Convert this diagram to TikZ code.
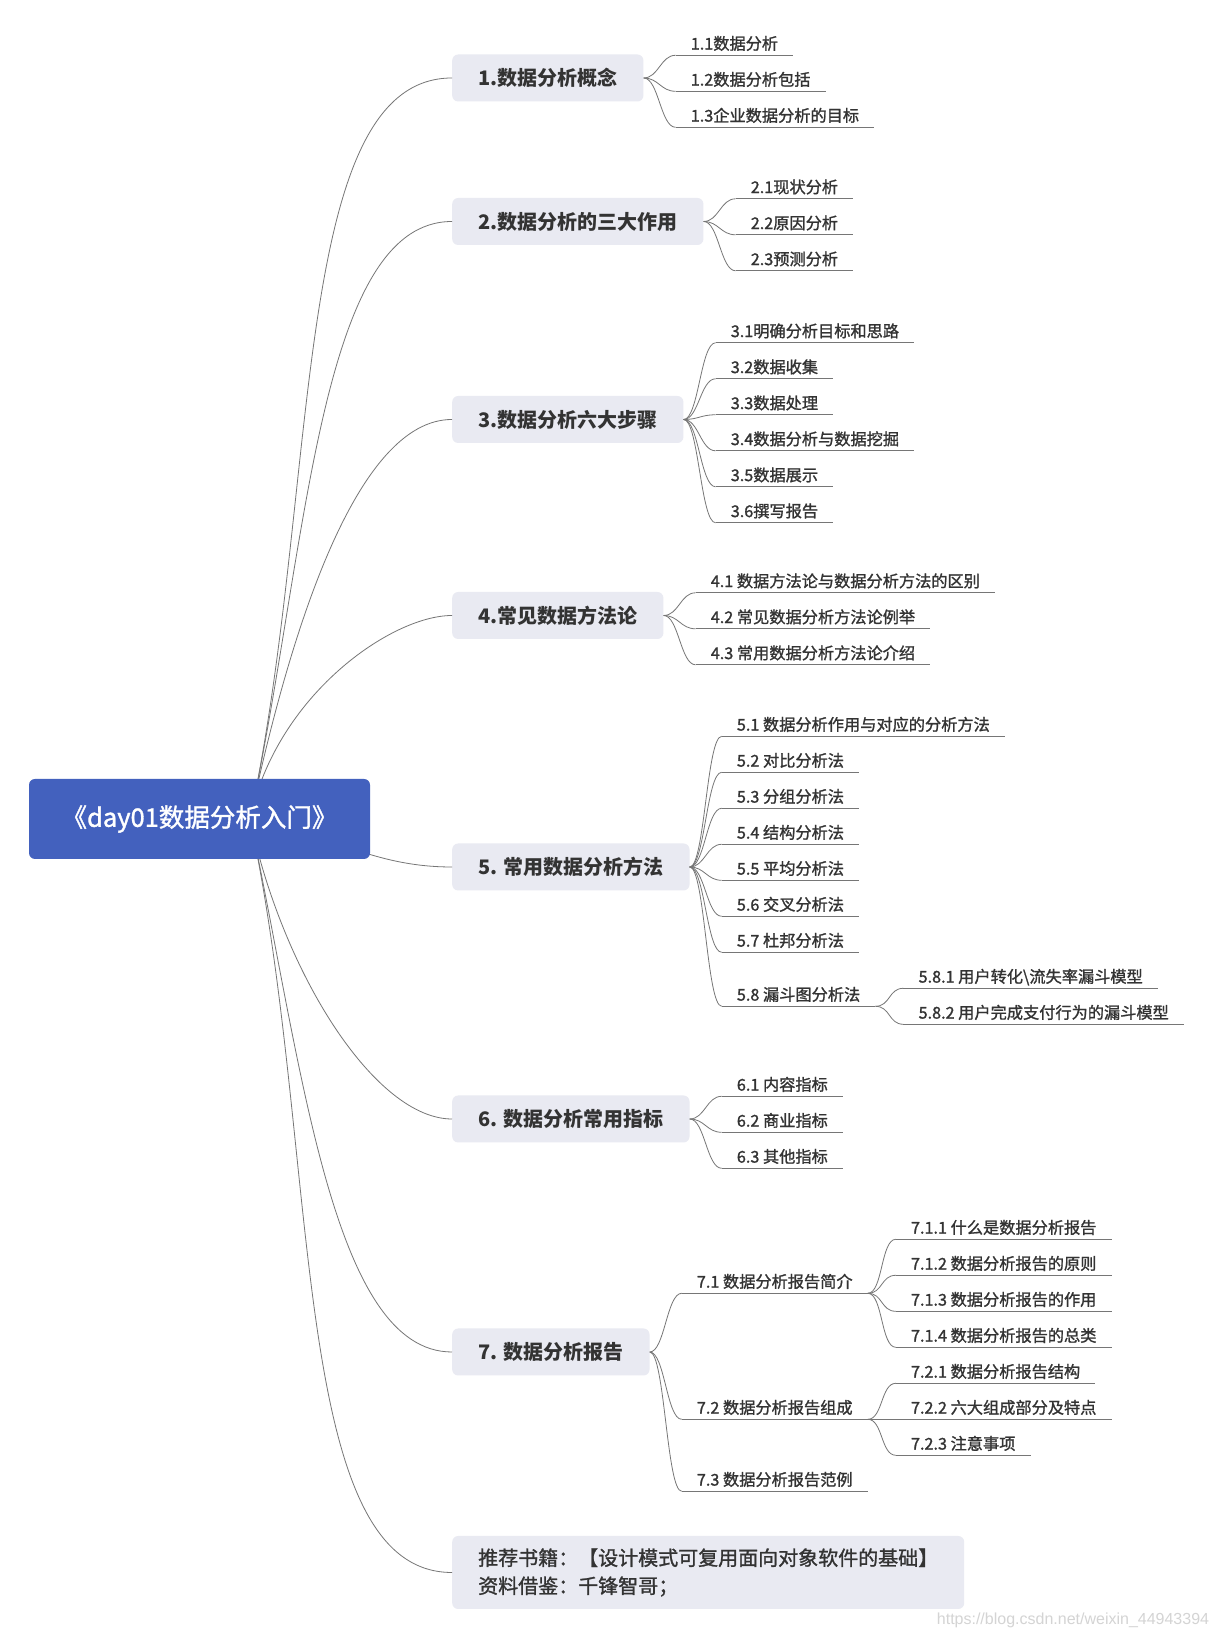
\documentclass[tikz,border=0pt]{standalone}
\usepackage{fontspec}
\setmainfont{Noto Sans CJK SC}
\newfontfamily\midfont{Noto Sans CJK SC}[FakeBold=1.3]
\newfontfamily\markfont{Liberation Sans}
\usetikzlibrary{positioning}

\definecolor{rootblue}{RGB}{67,97,190}
\definecolor{topicgray}{RGB}{233,234,242}
\definecolor{inkgray}{RGB}{51,51,51}
\definecolor{wiregray}{RGB}{118,118,118}
\definecolor{markgray}{RGB}{212,212,212}

\tikzset{
  root/.style={fill=rootblue, rounded corners=6pt, text=white, minimum width=341pt, minimum height=80pt, font=\midfont\fontsize{25.5}{30}\selectfont},
  topic/.style={fill=topicgray, rounded corners=6pt, anchor=west, inner xsep=26pt, minimum height=47pt, text=inkgray, font=\fontsize{20}{24}\selectfont\bfseries},
  note/.style={topic, align=left, minimum height=73pt, font=\midfont\fontsize{20}{28}\selectfont},
  leaf/.style={anchor=south west, inner xsep=15pt, inner ysep=0pt, text depth=5.5pt, text=inkgray, font=\midfont\fontsize{16.2}{19}\selectfont,
    append after command={(\tikzlastnode.south west) edge[rule] (\tikzlastnode.south east)}},
  rule/.style={draw=wiregray, line width=0.9pt},
  stem/.style={draw=wiregray, line width=0.8pt},
  twig/.style={draw=wiregray, line width=0.8pt, to path={.. controls +(15,0) and +(-15,0) .. (\tikztotarget)}},
  rise/.style={out=78, in=180, out looseness=1.13, in looseness=0.54},
  sink/.style={out=-78, in=180, out looseness=1.13, in looseness=0.54},
  wmark/.style={text=markgray, font=\markfont\fontsize{16}{16}\selectfont}
}

\begin{document}
\begin{tikzpicture}[x=1pt, y=1pt]
\fill[white] (0,0) rectangle (1217,1638);
\useasboundingbox (0,0) rectangle (1217,1638);

% main topics
\node[topic] (t1) at (452,1560) {1.数据分析概念};
\node[topic] (t2) at (452,1416.5) {2.数据分析的三大作用};
\node[topic] (t3) at (452,1218.5) {3.数据分析六大步骤};
\node[topic] (t4) at (452,1022.5) {4.常见数据方法论};
\node[topic] (t5) at (452,771) {5. 常用数据分析方法};
\node[topic] (t6) at (452,519) {6. 数据分析常用指标};
\node[topic] (t7) at (452,286) {7. 数据分析报告};
\node[note] (t8) at (452,65.5) {推荐书籍：【设计模式可复用面向对象软件的基础】\\资料借鉴：千锋智哥；};

% 1
\node[leaf] (c11) at ([shift={(32,22.7)}]t1.east) {1.1数据分析};
\node[leaf] (c12) at ([shift={(32,-13.3)}]t1.east) {1.2数据分析包括};
\node[leaf] (c13) at ([shift={(32,-49.3)}]t1.east) {1.3企业数据分析的目标};
\draw[twig] (t1.east) to (c11.south west);
\draw[twig] (t1.east) to (c12.south west);
\draw[twig] (t1.east) to (c13.south west);

% 2
\node[leaf] (c21) at ([shift={(32,22.7)}]t2.east) {2.1现状分析};
\node[leaf] (c22) at ([shift={(32,-13.3)}]t2.east) {2.2原因分析};
\node[leaf] (c23) at ([shift={(32,-49.3)}]t2.east) {2.3预测分析};
\draw[twig] (t2.east) to (c21.south west);
\draw[twig] (t2.east) to (c22.south west);
\draw[twig] (t2.east) to (c23.south west);

% 3
\node[leaf] (c31) at ([shift={(32,76.7)}]t3.east) {3.1明确分析目标和思路};
\node[leaf] (c32) at ([shift={(32,40.7)}]t3.east) {3.2数据收集};
\node[leaf] (c33) at ([shift={(32,4.7)}]t3.east) {3.3数据处理};
\node[leaf] (c34) at ([shift={(32,-31.3)}]t3.east) {3.4数据分析与数据挖掘};
\node[leaf] (c35) at ([shift={(32,-67.3)}]t3.east) {3.5数据展示};
\node[leaf] (c36) at ([shift={(32,-103.3)}]t3.east) {3.6撰写报告};
\draw[twig] (t3.east) to (c31.south west);
\draw[twig] (t3.east) to (c32.south west);
\draw[twig] (t3.east) to (c33.south west);
\draw[twig] (t3.east) to (c34.south west);
\draw[twig] (t3.east) to (c35.south west);
\draw[twig] (t3.east) to (c36.south west);

% 4
\node[leaf] (c41) at ([shift={(32,22.7)}]t4.east) {4.1 数据方法论与数据分析方法的区别};
\node[leaf] (c42) at ([shift={(32,-13.3)}]t4.east) {4.2 常见数据分析方法论例举};
\node[leaf] (c43) at ([shift={(32,-49.3)}]t4.east) {4.3 常用数据分析方法论介绍};
\draw[twig] (t4.east) to (c41.south west);
\draw[twig] (t4.east) to (c42.south west);
\draw[twig] (t4.east) to (c43.south west);

% 5
\node[leaf] (c51) at ([shift={(32,130.7)}]t5.east) {5.1 数据分析作用与对应的分析方法};
\node[leaf] (c52) at ([shift={(32,94.7)}]t5.east) {5.2 对比分析法};
\node[leaf] (c53) at ([shift={(32,58.7)}]t5.east) {5.3 分组分析法};
\node[leaf] (c54) at ([shift={(32,22.7)}]t5.east) {5.4 结构分析法};
\node[leaf] (c55) at ([shift={(32,-13.3)}]t5.east) {5.5 平均分析法};
\node[leaf] (c56) at ([shift={(32,-49.3)}]t5.east) {5.6 交叉分析法};
\node[leaf] (c57) at ([shift={(32,-85.3)}]t5.east) {5.7 杜邦分析法};
\node[leaf] (c58) at ([shift={(32,-139.3)}]t5.east) {5.8 漏斗图分析法};
\node[leaf] (c581) at ([shift={(28,18)}]c58.south east) {5.8.1 用户转化\textbackslash 流失率漏斗模型};
\node[leaf] (c582) at ([shift={(28,-18)}]c58.south east) {5.8.2 用户完成支付行为的漏斗模型};
\draw[twig] (t5.east) to (c51.south west);
\draw[twig] (t5.east) to (c52.south west);
\draw[twig] (t5.east) to (c53.south west);
\draw[twig] (t5.east) to (c54.south west);
\draw[twig] (t5.east) to (c55.south west);
\draw[twig] (t5.east) to (c56.south west);
\draw[twig] (t5.east) to (c57.south west);
\draw[twig] (t5.east) to (c58.south west);
\draw[twig] (c58.south east) to (c581.south west);
\draw[twig] (c58.south east) to (c582.south west);

% 6
\node[leaf] (c61) at ([shift={(32,22.7)}]t6.east) {6.1 内容指标};
\node[leaf] (c62) at ([shift={(32,-13.3)}]t6.east) {6.2 商业指标};
\node[leaf] (c63) at ([shift={(32,-49.3)}]t6.east) {6.3 其他指标};
\draw[twig] (t6.east) to (c61.south west);
\draw[twig] (t6.east) to (c62.south west);
\draw[twig] (t6.east) to (c63.south west);

% 7
\node[leaf] (c71) at ([shift={(32,58.7)}]t7.east) {7.1 数据分析报告简介};
\node[leaf] (c72) at ([shift={(32,-67.3)}]t7.east) {7.2 数据分析报告组成};
\node[leaf] (c73) at ([shift={(32,-139.3)}]t7.east) {7.3 数据分析报告范例};
\node[leaf] (c711) at ([shift={(28,54)}]c71.south east) {7.1.1 什么是数据分析报告};
\node[leaf] (c712) at ([shift={(28,18)}]c71.south east) {7.1.2 数据分析报告的原则};
\node[leaf] (c713) at ([shift={(28,-18)}]c71.south east) {7.1.3 数据分析报告的作用};
\node[leaf] (c714) at ([shift={(28,-54)}]c71.south east) {7.1.4 数据分析报告的总类};
\node[leaf] (c721) at ([shift={(28,36)}]c72.south east) {7.2.1 数据分析报告结构};
\node[leaf] (c722) at ([shift={(28,0)}]c72.south east) {7.2.2 六大组成部分及特点};
\node[leaf] (c723) at ([shift={(28,-36)}]c72.south east) {7.2.3 注意事项};
\draw[twig] (t7.east) to (c71.south west);
\draw[twig] (t7.east) to (c72.south west);
\draw[twig] (t7.east) to (c73.south west);
\draw[twig] (c71.south east) to (c711.south west);
\draw[twig] (c71.south east) to (c712.south west);
\draw[twig] (c71.south east) to (c713.south west);
\draw[twig] (c71.south east) to (c714.south west);
\draw[twig] (c72.south east) to (c721.south west);
\draw[twig] (c72.south east) to (c722.south west);
\draw[twig] (c72.south east) to (c723.south west);

% root and its curves
\coordinate (hub) at (250,819);
\draw[stem] (hub) to[rise] (t1.west);
\draw[stem] (hub) to[rise] (t2.west);
\draw[stem] (hub) to[rise] (t3.west);
\draw[stem] (hub) to[rise] (t4.west);
\draw[stem] (hub) to[out=-10,in=180] (t5.west);
\draw[stem] (hub) to[sink] (t6.west);
\draw[stem] (hub) to[sink] (t7.west);
\draw[stem] (hub) to[sink] (t8.west);
\node[root] (root) at (199.5,819) {《day01数据分析入门》};

\node[wmark] (wm) at (1073,18) {https://blog.csdn.net/weixin\_44943394};
\end{tikzpicture}
\end{document}
